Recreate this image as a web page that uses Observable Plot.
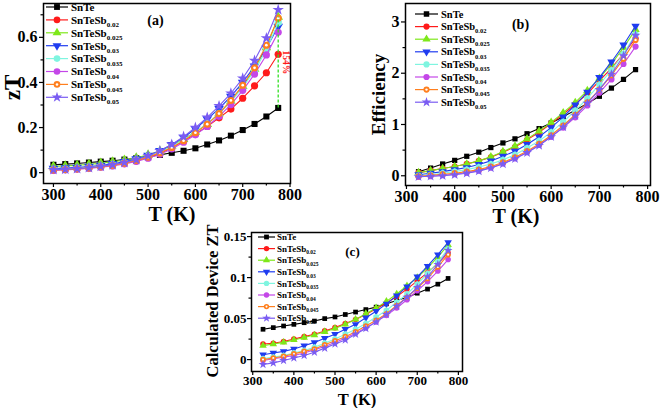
<!DOCTYPE html>
<html><head><meta charset="utf-8">
<script src="https://cdn.jsdelivr.net/npm/d3@7"></script>
<script src="https://cdn.jsdelivr.net/npm/@observablehq/plot@0.6"></script>
<style>
body{margin:0;background:#fff;}
#root{position:relative;width:660px;height:408px;overflow:hidden;background:#fff;}
#root svg{position:absolute;left:0;top:0;}
</style></head><body><div id="root"></div>
<script>
// ---------- data ----------
const T_a  = [300,325,350,375,400,425,450,475,500,525,550,575,600,625,650,675,700,725,750,775];
const T_bc = [325,350,375,400,425,450,475,500,525,550,575,600,625,650,675,700,725,750,775];

const seriesMain = ["SnTe","SnTeSb","SnTeSb","SnTeSb","SnTeSb","SnTeSb","SnTeSb","SnTeSb"];
const seriesSub  = ["","0.02","0.025","0.03","0.035","0.04","0.045","0.05"];
const seriesColor = ["#000000","#ff1a1a","#7ee81a","#1f3cf0","#7ff5e0","#c447e8","#ff7f1e","#7a5cf2"];

// (a) zT
const zT_SnTe  = [0.035,0.038,0.041,0.045,0.049,0.053,0.058,0.064,0.071,0.079,0.088,0.097,0.108,0.125,0.143,0.164,0.189,0.216,0.249,0.287];
const zT_Sb02  = [0.015,0.017,0.020,0.024,0.029,0.035,0.043,0.053,0.067,0.085,0.110,0.140,0.172,0.205,0.243,0.282,0.330,0.385,0.443,0.525];
const zT_Sb025 = [0.028,0.030,0.033,0.037,0.042,0.048,0.056,0.066,0.079,0.096,0.120,0.148,0.180,0.215,0.262,0.318,0.383,0.460,0.555,0.690];
const zT_Sb03  = [0.018,0.020,0.023,0.027,0.032,0.039,0.048,0.060,0.076,0.097,0.124,0.156,0.195,0.238,0.284,0.338,0.400,0.472,0.552,0.648];
const zT_Sb035 = [0.014,0.016,0.019,0.023,0.028,0.035,0.044,0.056,0.072,0.092,0.116,0.146,0.178,0.218,0.262,0.315,0.378,0.452,0.545,0.665];
const zT_Sb04  = [0.010,0.012,0.015,0.019,0.024,0.030,0.039,0.050,0.064,0.082,0.105,0.135,0.168,0.205,0.250,0.302,0.365,0.437,0.522,0.622];
const zT_Sb045 = [0.012,0.014,0.017,0.021,0.026,0.033,0.042,0.054,0.069,0.088,0.112,0.142,0.177,0.215,0.262,0.320,0.388,0.465,0.565,0.685];
const zT_Sb05  = [0.013,0.015,0.018,0.022,0.028,0.035,0.045,0.058,0.075,0.097,0.125,0.160,0.200,0.245,0.296,0.352,0.418,0.497,0.597,0.722];

// (b) Efficiency
const eff_SnTe  = [0.08,0.15,0.23,0.30,0.38,0.46,0.55,0.64,0.72,0.82,0.92,1.03,1.15,1.28,1.41,1.55,1.71,1.88,2.07];
const eff_Sb02  = [0.06,0.10,0.14,0.18,0.23,0.29,0.36,0.46,0.56,0.70,0.85,1.02,1.20,1.40,1.60,1.85,2.10,2.38,2.68];
const eff_Sb025 = [0.06,0.10,0.14,0.18,0.23,0.29,0.37,0.47,0.58,0.72,0.87,1.04,1.23,1.43,1.66,1.90,2.18,2.50,2.85];
const eff_Sb03  = [0.02,0.05,0.08,0.12,0.16,0.22,0.29,0.38,0.48,0.61,0.76,0.94,1.15,1.38,1.63,1.92,2.22,2.55,2.92];
const eff_Sb035 = [0.00,0.02,0.05,0.08,0.12,0.17,0.23,0.31,0.41,0.54,0.68,0.85,1.05,1.27,1.51,1.78,2.06,2.38,2.76];
const eff_Sb04  = [-0.02,-0.01,0.01,0.03,0.06,0.10,0.16,0.24,0.34,0.46,0.60,0.76,0.94,1.14,1.37,1.62,1.88,2.18,2.52];
const eff_Sb045 = [-0.01,0.01,0.03,0.05,0.08,0.12,0.18,0.26,0.36,0.48,0.62,0.79,0.98,1.19,1.43,1.68,1.96,2.28,2.65];
const eff_Sb05  = [-0.02,-0.01,0.00,0.02,0.05,0.09,0.15,0.23,0.33,0.45,0.59,0.76,0.95,1.17,1.41,1.68,1.98,2.34,2.74];

// (c) Calculated Device ZT
const dZT_SnTe  = [0.037,0.039,0.041,0.043,0.045,0.047,0.050,0.052,0.055,0.058,0.061,0.064,0.068,0.072,0.076,0.081,0.086,0.092,0.099];
const dZT_Sb02  = [0.019,0.020,0.022,0.025,0.028,0.031,0.035,0.039,0.044,0.049,0.055,0.062,0.069,0.077,0.086,0.096,0.106,0.117,0.130];
const dZT_Sb025 = [0.017,0.019,0.021,0.024,0.027,0.030,0.034,0.038,0.043,0.049,0.056,0.063,0.071,0.080,0.090,0.100,0.112,0.125,0.140];
const dZT_Sb03  = [0.006,0.008,0.010,0.013,0.017,0.021,0.026,0.031,0.037,0.043,0.051,0.059,0.068,0.078,0.089,0.101,0.114,0.128,0.143];
const dZT_Sb035 = [0.001,0.003,0.005,0.008,0.011,0.015,0.020,0.025,0.031,0.037,0.044,0.052,0.060,0.070,0.080,0.092,0.105,0.119,0.135];
const dZT_Sb04  = [-0.001,0.001,0.003,0.005,0.008,0.012,0.016,0.021,0.026,0.032,0.039,0.046,0.054,0.063,0.073,0.084,0.095,0.108,0.122];
const dZT_Sb045 = [0.000,0.002,0.004,0.007,0.010,0.013,0.018,0.023,0.028,0.034,0.041,0.048,0.056,0.066,0.076,0.087,0.099,0.113,0.128];
const dZT_Sb05  = [-0.006,-0.004,-0.001,0.002,0.005,0.009,0.014,0.019,0.024,0.031,0.038,0.046,0.055,0.065,0.076,0.088,0.101,0.116,0.133];

const ticksX = [300,400,500,600,700,800];
const minorX = [350,450,550,650,750];

// ---------- helpers ----------
const FONT = "'Liberation Serif','Times New Roman',serif";
const triDown = {draw(ctx, size){ const y = -Math.sqrt(size / (Math.sqrt(3) * 3));
  ctx.moveTo(0, -y * 2); ctx.lineTo(-Math.sqrt(3) * y, y); ctx.lineTo(Math.sqrt(3) * y, y); ctx.closePath(); }};
const seriesSymbol = ["square","circle","triangle",triDown,"hexagon","circle","circle","star"];
const d3Sym = {square:d3.symbolSquare, circle:d3.symbolCircle, triangle:d3.symbolTriangle, hexagon:d3.symbolCircle, star:d3.symbolStar};

function panel(o){
  const marks = [
    Plot.axisY({ticks:o.yMinor, tickSize:2.5, tickFormat:()=>"", strokeWidth:1.2, label:null}),
    Plot.axisY({ticks:o.yTicks, tickSize:4, tickPadding:o.yPad, tickFormat:o.yFormat, fontSize:o.tickFont, fontWeight:"bold", strokeWidth:1.2, label:null}),
    Plot.axisX({ticks:minorX, tickSize:2.5, tickFormat:()=>"", strokeWidth:1.2, label:null}),
    Plot.axisX({ticks:ticksX, tickSize:4, tickPadding:o.xPad, tickFormat:d=>String(d), fontSize:o.tickFont, fontWeight:"bold", strokeWidth:1.2, label:null}),
  ];
  o.series.forEach((vals, i) => {
    const data = o.T.map((t, k) => ({T:t, v:vals[k]}));
    marks.push(Plot.line(data, {x:"T", y:"v", stroke:seriesColor[i], strokeWidth:1.1}));
    marks.push(Plot.dot(data, {x:"T", y:"v", symbol:seriesSymbol[i], r:seriesSymbol[i]==="square"? o.r*0.95 : o.r, fill:seriesColor[i], stroke:"none"}));
    if (i === 6) marks.push(Plot.dot(data, {x:"T", y:"v", r:o.r*0.38, fill:"white"}));
  });
  if (o.extra) marks.push(...o.extra);
  marks.push(Plot.frame({strokeWidth:1.5, stroke:"black"}));
  marks.push(Plot.text([o.ylabel], {text:d=>d, frameAnchor:"left", textAnchor:"middle", lineAnchor:"middle", dx:o.ylabelDx, dy:o.ylabelDy, rotate:-90, fontSize:o.ylabelFont, fontWeight:"bold", fill:"black"}));
  marks.push(Plot.text(["T (K)"], {text:d=>d, frameAnchor:"bottom", textAnchor:"middle", lineAnchor:"middle", dx:o.xlabelDx, dy:o.xlabelDy, fontSize:o.xlabelFont, fontWeight:"bold", fill:"black"}));
  marks.push(Plot.text([o.tag], {text:d=>d, frameAnchor:"top-left", textAnchor:"middle", lineAnchor:"middle", dx:o.tagDx, dy:o.tagDy, fontSize:o.tagFont, fontWeight:"bold", fill:"black"}));
  return Plot.plot({
    width:660, height:408,
    marginLeft:o.m[0], marginRight:o.m[1], marginTop:o.m[2], marginBottom:o.m[3],
    x:{domain:o.xDomain}, y:{domain:o.yDomain},
    style:{fontFamily:FONT, background:"transparent", color:"black", overflow:"visible"},
    marks
  });
}

const root = document.getElementById("root");

// (a)
const lastA = T_a[T_a.length-1];
root.append(panel({
  T:T_a, series:[zT_SnTe,zT_Sb02,zT_Sb025,zT_Sb03,zT_Sb035,zT_Sb04,zT_Sb045,zT_Sb05],
  xDomain:[279,801], yDomain:[-0.048,0.75], m:[43,370,3,225],
  yTicks:[0,0.2,0.4,0.6], yMinor:[0.1,0.3,0.5,0.7], yFormat:d=>d===0?"0":d3.format(".1f")(d),
  tickFont:16, yPad:2, xPad:1, r:3.6,
  ylabel:"zT", ylabelDx:-31, ylabelDy:-6, ylabelFont:23,
  xlabelDx:5, xlabelDy:31, xlabelFont:20,
  tag:"(a)", tagDx:112, tagDy:17, tagFont:14,
  extra:[
    Plot.ruleX([lastA], {x:d=>d, y1:zT_SnTe[zT_SnTe.length-1], y2:zT_Sb025[zT_Sb025.length-1], stroke:"#33dd22", strokeWidth:1.3, strokeDasharray:"3,2"}),
    Plot.text(["154%"], {x:[lastA], y:[(zT_SnTe[19]+zT_Sb025[19])/2], text:d=>d, dx:8, rotate:90, fontSize:9.5, fontWeight:"bold", fill:"#ff1a1a"})
  ]
}));

// (b)
root.append(panel({
  T:T_bc, series:[eff_SnTe,eff_Sb02,eff_Sb025,eff_Sb03,eff_Sb035,eff_Sb04,eff_Sb045,eff_Sb05],
  xDomain:[298,806], yDomain:[-0.19,3.36], m:[405,10,3,223],
  yTicks:[0,1,2,3], yMinor:[0.5,1.5,2.5], yFormat:d=>String(d),
  tickFont:16, yPad:2, xPad:1, r:3.1,
  ylabel:"Efficiency", ylabelDx:-27, ylabelDy:0, ylabelFont:19,
  xlabelDx:-12, xlabelDy:31, xlabelFont:20,
  tag:"(b)", tagDx:115, tagDy:21, tagFont:14
}));

// (c)
root.append(panel({
  T:T_bc, series:[dZT_SnTe,dZT_Sb02,dZT_Sb025,dZT_Sb03,dZT_Sb035,dZT_Sb04,dZT_Sb045,dZT_Sb05],
  xDomain:[297,810], yDomain:[-0.0145,0.155], m:[251,198,232,37],
  yTicks:[0,0.05,0.1,0.15], yMinor:[0.025,0.075,0.125], yFormat:d=>d===0?"0":String(d),
  tickFont:13, yPad:1, xPad:0, r:2.8,
  ylabel:"Calculated Device ZT", ylabelDx:-39, ylabelDy:-1, ylabelFont:16.5,
  xlabelDx:0, xlabelDy:28, xlabelFont:16.5,
  tag:"(c)", tagDx:101, tagDy:19, tagFont:13
}));

// ---------- legends ----------
const leg = d3.select(root).append("svg").attr("width",660).attr("height",408).style("font-family",FONT).style("font-weight","bold");
const legends = [
  {x1:46, x2:68, tx:71, y0:7, step:12.9, font:11, sub:7, r:3.3},
  {x1:415, x2:438, tx:441, y0:14, step:12.6, font:10.5, sub:6.5, r:3.1},
  {x1:258, x2:275, tx:277, y0:237, step:11.6, font:9, sub:5.5, r:2.7}
];
legends.forEach(L => {
  seriesMain.forEach((name, i) => {
    const y = L.y0 + i * L.step, cx = (L.x1 + L.x2) / 2, c = seriesColor[i];
    const g = leg.append("g");
    g.append("line").attr("x1",L.x1).attr("x2",L.x2).attr("y1",y).attr("y2",y).attr("stroke",c).attr("stroke-width",1.2);
    const s = seriesSymbol[i];
    const area = Math.PI * L.r * L.r;
    const path = typeof s === "string" ? d3.symbol(d3Sym[s], area)() : d3.symbol(s, area)();
    g.append("path").attr("d",path).attr("transform",`translate(${cx},${y})`).attr("fill",c);
    if (i === 6) g.append("circle").attr("cx",cx).attr("cy",y).attr("r",L.r*0.38).attr("fill","white");
    const t = g.append("text").attr("x",L.tx).attr("y",y + L.font*0.35).attr("font-size",L.font).attr("fill","black").text(name);
    if (seriesSub[i]) t.append("tspan").attr("dy",L.font*0.3).attr("font-size",L.sub).text(seriesSub[i]);
  });
});
</script></body></html>
